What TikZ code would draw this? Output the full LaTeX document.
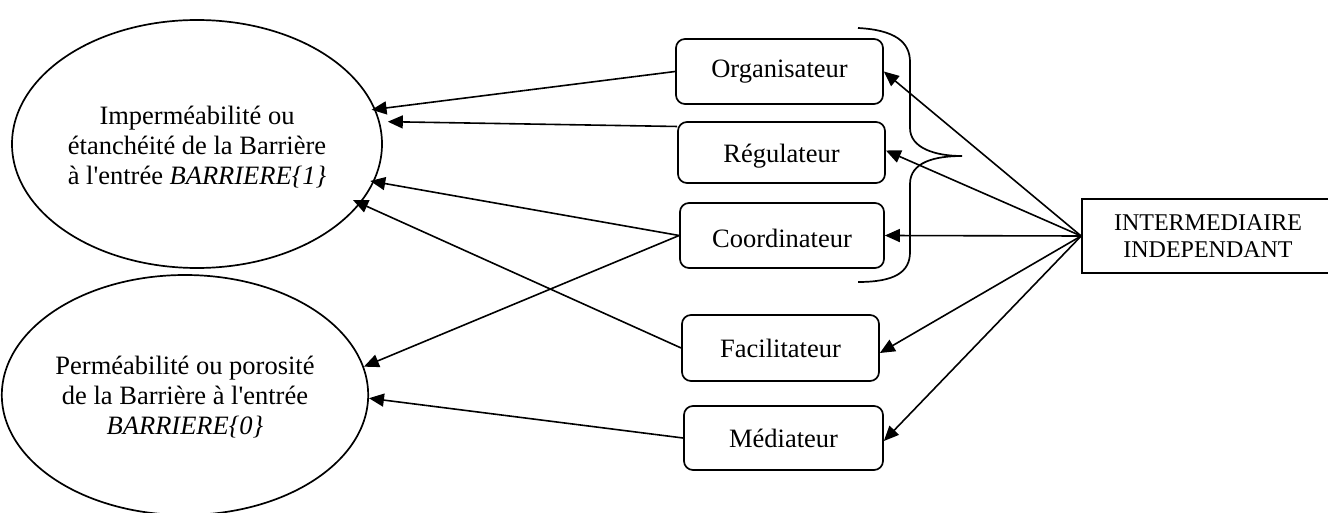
\documentclass[tikz,border=0pt]{standalone}
\usepackage{fontspec}
\setmainfont{Liberation Serif}[Ligatures=TeXOff]
\usetikzlibrary{shapes.geometric,arrows.meta}
\newcommand{\lowerby}[2]{\raisebox{-#1}[\height][\depth]{#2}}
\begin{document}
\begin{tikzpicture}[x=1pt,y=-1pt,
  every node/.style={font=\fontsize{26.5}{30}\selectfont},
  ell/.style={draw,ellipse,line width=1.7pt,inner sep=0pt,align=center},
  role/.style={draw,rounded corners=9pt,line width=1.7pt,inner sep=0pt},
  arr/.style={line width=1.6pt,-{Triangle[length=15pt,width=13pt]}}]
\useasboundingbox (0,0) rectangle (1328,513);
% ellipses
\node[ell,minimum width=370pt,minimum height=248pt] (e1) at (197,144)
  {\lowerby{5pt}{\begin{tabular}{@{}c@{}}Imperméabilité ou\\étanchéité de la Barrière\\à l'entrée \textit{BARRIERE\{1\}}\end{tabular}}};
\node[ell,minimum width=354pt,minimum height=240pt] (e2) at (185,395)
  {\lowerby{3pt}{\begin{tabular}{@{}c@{}}Perméabilité ou porosité\\de la Barrière à l'entrée\\\textit{BARRIERE\{0\}}\end{tabular}}};
% role boxes
\node[role,minimum width=207pt,minimum height=65pt] (org) at (779.5,71.5) {Organisateur};
\node[role,minimum width=207pt,minimum height=61pt] (reg) at (781.5,152.5) {\lowerby{4pt}{Régulateur}};
\node[role,minimum width=204pt,minimum height=65pt] (coo) at (782,235.5) {\lowerby{3pt}{Coordinateur}};
\node[role,minimum width=197pt,minimum height=66pt] (fac) at (780.5,348) {Facilitateur};
\node[role,minimum width=199pt,minimum height=64pt] (med) at (783.5,438) {Médiateur};
% intermediaire
\node[draw,line width=1.7pt,minimum width=252pt,minimum height=74pt,align=center,
  font=\fontsize{24}{27}\selectfont] (int) at (1208,236) {INTERMEDIAIRE\\INDEPENDANT};
% brace
\draw[line width=1.7pt] (858,28) .. controls (895,30) and (910,42) .. (910,62)
  -- (910,128) .. controls (910,148) and (935,156) .. (962,156)
  .. controls (935,156) and (910,162) .. (910,184)
  -- (910,252) .. controls (910,272) and (895,282) .. (858,282);
% arrows from intermediaire
\draw[arr] (int.west) -- (org.east);
\draw[arr] (int.west) -- ([yshift=2pt]reg.east);
\draw[arr] (int.west) -- (coo.east);
\draw[arr] (int.west) -- ([yshift=-5pt]fac.east);
\draw[arr] (int.west) -- ([yshift=-3pt]med.east);
% arrows to ellipses
\draw[arr,shorten >=-4pt] (org.west) -- (e1.11);
\draw[arr,shorten >=8pt] (reg.166) -- (e1.7);
\draw[arr,shorten >=-4pt] (coo.west) -- (e1.-12);
\draw[arr,shorten >=-8pt] (fac.west) -- (e1.-20);
\draw[arr] (coo.west) -- (e2.9);
\draw[arr] (med.west) -- (e2.-1);
\end{tikzpicture}
\end{document}
